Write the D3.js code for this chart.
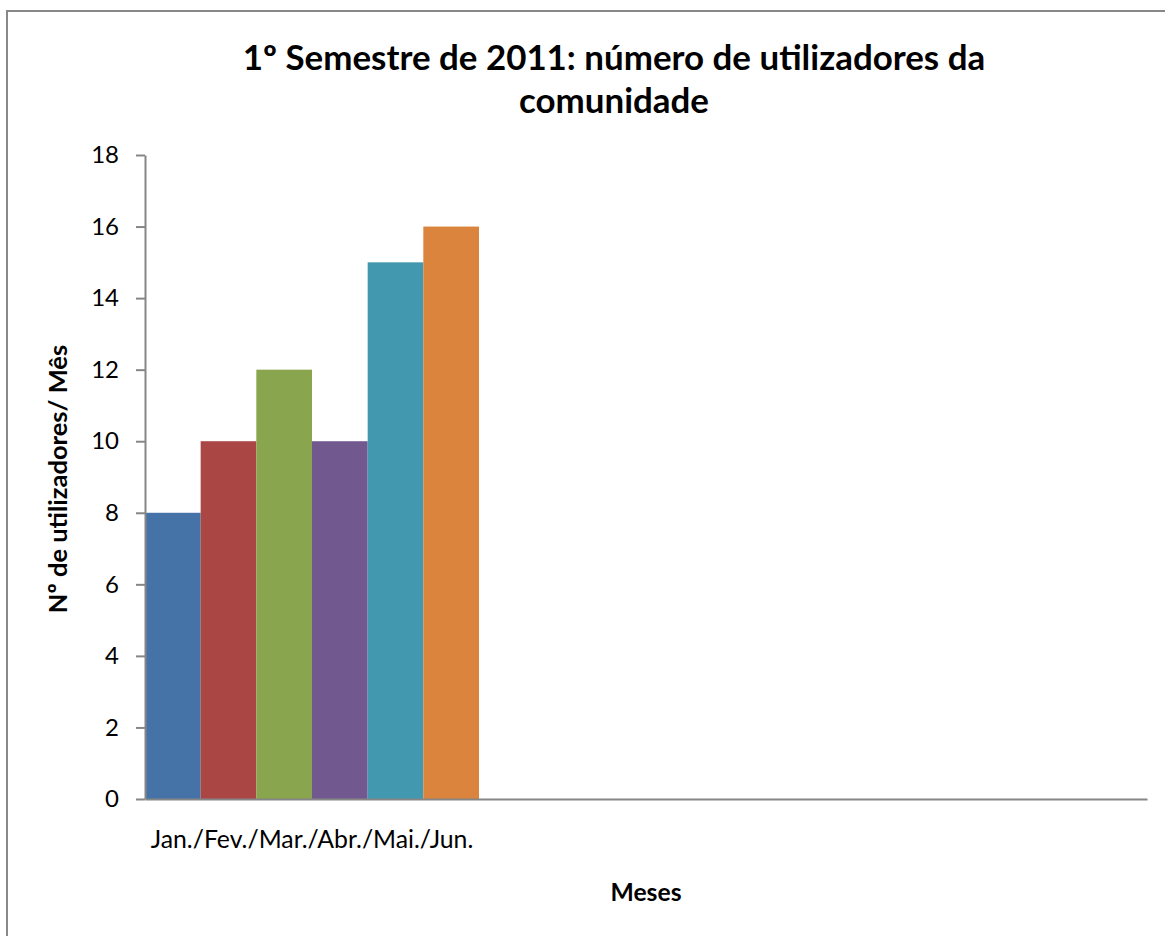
<!DOCTYPE html>
<html><head><meta charset="utf-8">
<script src="https://cdn.jsdelivr.net/npm/d3@7"></script>
<style>body{margin:0;background:#fff}svg{display:block;font-family:Lato,"Open Sans",sans-serif}</style>
</head><body><svg id="c" width="1165" height="936"></svg>
<script>
const categories = ["Jan./Fev./Mar./Abr./Mai./Jun.", "", " "];
const seriesNames = ["Jan.", "Fev.", "Mar.", "Abr.", "Mai.", "Jun."];
const seriesValues = [8, 10, 12, 10, 15, 16];
const seriesColors = ["#4572A7", "#AA4643", "#89A54E", "#71588F", "#4198AF", "#DB843D"];
const yTicks = [0, 2, 4, 6, 8, 10, 12, 14, 16, 18];
const titleLines = ["1º Semestre de 2011: número de utilizadores da", "comunidade"];
const xTitle = "Meses";
const yTitle = "Nº de utilizadores/ Mês";

const svg = d3.select("#c");
svg.append("rect").attr("x", 7).attr("y", 11).attr("width", 1170).attr("height", 940)
  .attr("fill", "#fff").attr("stroke", "#888").attr("stroke-width", 2);

const m = {l: 145, r: 1147, t: 155, b: 799};
const x = d3.scaleBand().domain(categories).range([m.l, m.r]).padding(0);
const xs = d3.scaleBand().domain(seriesNames).range([0, x.bandwidth()]).padding(0);
const y = d3.scaleLinear().domain([0, 18]).range([m.b, m.t]);

svg.append("g").selectAll("rect").data(seriesValues).join("rect")
  .attr("x", (d, i) => x(categories[0]) + xs(seriesNames[i]))
  .attr("y", d => y(d))
  .attr("width", xs.bandwidth())
  .attr("height", d => y(0) - y(d))
  .attr("fill", (d, i) => seriesColors[i]);

const ya = svg.append("g").attr("transform", `translate(${m.l},0)`)
  .call(d3.axisLeft(y).tickValues(yTicks).tickSize(9).tickPadding(17).tickSizeOuter(0));
ya.select(".domain").attr("stroke", "#868686").attr("stroke-width", 2);
ya.selectAll(".tick line").attr("stroke", "#868686").attr("stroke-width", 2);
ya.selectAll(".tick text").attr("font-size", 24).attr("fill", "#000").attr("font-family", "Lato");

const xa = svg.append("g").attr("transform", `translate(0,${m.b})`)
  .call(d3.axisBottom(x).tickSize(0).tickPadding(31));
xa.select(".domain").attr("stroke", "#868686").attr("stroke-width", 2);
xa.selectAll(".tick text").attr("font-size", 24.8).attr("fill", "#000").attr("font-family", "Lato")
  .attr("y", 49).attr("dy", 0);

svg.append("text").attr("x", 614).attr("text-anchor", "middle")
  .attr("font-size", 34.9).attr("font-weight", "bold")
  .selectAll("tspan").data(titleLines).join("tspan")
  .attr("x", 614).attr("y", (d, i) => 70 + i * 43).text(d => d);

svg.append("text").attr("x", 646).attr("y", 901).attr("text-anchor", "middle")
  .attr("font-size", 24.7).attr("font-weight", "bold").text(xTitle);

svg.append("text").attr("transform", "translate(67,479) rotate(-90)").attr("text-anchor", "middle")
  .attr("font-size", 25.5).attr("font-weight", "bold").text(yTitle);
</script></body></html>
